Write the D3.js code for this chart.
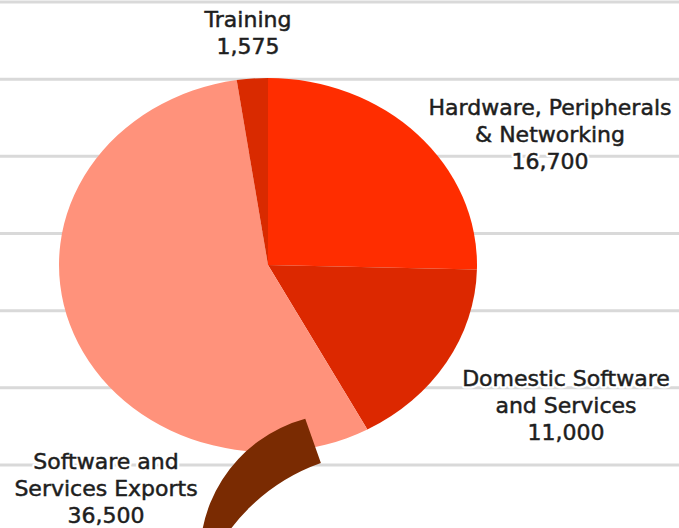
<!DOCTYPE html>
<html>
<head>
<meta charset="utf-8">
<script src="https://cdn.jsdelivr.net/npm/d3@7"></script>
<style>
  html, body { margin: 0; padding: 0; background: #fff; }
  svg { display: block; }
  .label { font-family: "DejaVu Sans", Verdana, sans-serif; font-size: 22px; }
  .halo { fill: #fff; stroke: #fff; stroke-width: 5px; stroke-linejoin: round; }
  .ink { fill: #1e1e1e; stroke: #1e1e1e; stroke-width: 0.5px; }
</style>
</head>
<body>
<div id="chart"></div>
<script>
// data
const categories = ["Hardware, Peripherals\n& Networking", "Domestic Software\nand Services", "Software and\nServices Exports", "Training"];
const values = [16700, 11000, 36500, 1575];
const colors = ["#ff2d00", "#dc2800", "#ff927b", "#d92a00"];
const gridTicks = [0, 1, 2, 3, 4, 5, 6];

const width = 679, height = 528;
// ellipse of the squashed pie
const pie0 = { cx: 268, cy: 265, rx: 209, ry: 187 };
// where each label block sits (center x, first baseline)
const labelPos = [[550, 115], [566, 386], [106, 469], [248, 27]];
const lineH = 27;

const svg = d3.select("#chart")
    .append("svg")
    .attr("width", width)
    .attr("height", height);

// horizontal grid lines behind everything
const yGrid = d3.scaleLinear().domain([0, 6]).range([2, 465]);
svg.append("g")
    .selectAll("line")
    .data(gridTicks)
    .join("line")
    .attr("x1", 0)
    .attr("x2", width)
    .attr("y1", d => yGrid(d))
    .attr("y2", d => yGrid(d))
    .attr("stroke", "#d9d9d9")
    .attr("stroke-width", 3);

// pie, drawn as a circle then squashed vertically
const pie = d3.pie().sort(null).value(d => d)(values);
const arc = d3.arc().innerRadius(0).outerRadius(pie0.rx);

svg.append("g")
    .attr("transform", `translate(${pie0.cx},${pie0.cy}) scale(1,${pie0.ry / pie0.rx})`)
    .selectAll("path")
    .data(pie)
    .join("path")
    .attr("d", arc)
    .attr("fill", (d, i) => colors[i]);

// brown hook coming in from the bottom
const hook = { ox: 342, oy: 556, or: 142, ix: 385, iy: 645, ir: 193 };
const deg = a => a * Math.PI / 180;
const p = d3.path();
p.arc(hook.ox, hook.oy, hook.or, deg(255), deg(170), true);
p.arc(hook.ix, hook.iy, hook.ir, deg(200), deg(250.6), false);
p.closePath();
svg.append("path")
    .attr("d", p.toString())
    .attr("fill", "#7a2b02");

// labels: white halo first, then the dark text on top
const fmt = d3.format(",");
["halo", "ink"].forEach(cls => {
    categories.forEach((c, i) => {
        const lines = c.split("\n").concat(fmt(values[i]));
        const t = svg.append("text")
            .attr("class", "label " + cls)
            .attr("text-anchor", "middle")
            .attr("x", labelPos[i][0])
            .attr("y", labelPos[i][1]);
        lines.forEach((l, j) => {
            t.append("tspan")
                .attr("x", labelPos[i][0])
                .attr("dy", j === 0 ? 0 : lineH)
                .text(l);
        });
    });
});
</script>
</body>
</html>
